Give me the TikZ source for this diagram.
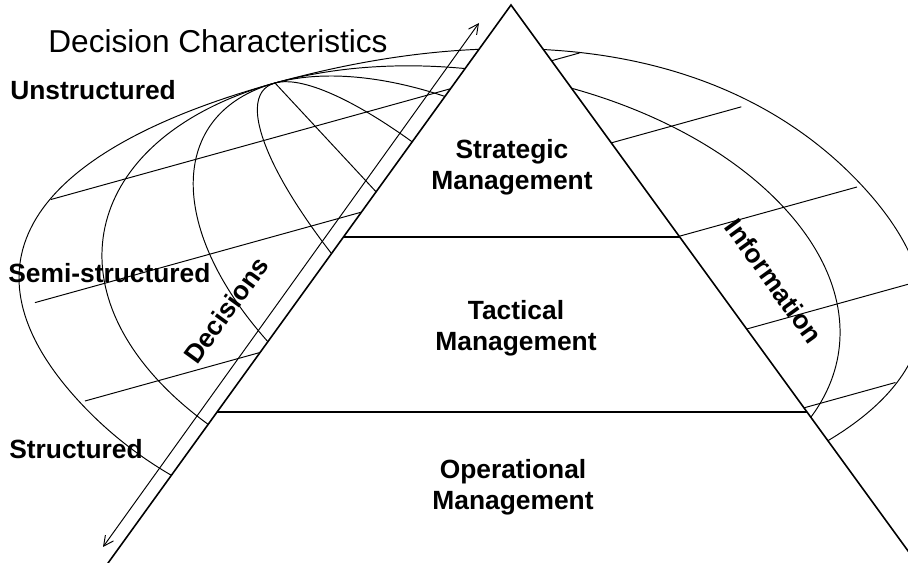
\documentclass[tikz,border=0pt]{standalone}
\usepackage{fontspec}
\setmainfont{Liberation Sans}
\usetikzlibrary{arrows.meta,calc}

\tikzset{
  globe/.style={line width=0.55pt},
  pyramid/.style={line width=0.9pt},
  level/.style={line width=1.2pt},
  scale label/.style={font=\bfseries\fontsize{15}{18}\selectfont, anchor=base west, inner sep=0pt},
  tier/.style={font=\bfseries\fontsize{15}{17.6}\selectfont, align=center, inner sep=0pt},
  flow/.style={font=\bfseries\fontsize{15}{18}\selectfont, inner sep=0pt},
  barb/.tip={Straight Barb[length=2mm,width=2mm]}
}

\begin{document}
\begin{tikzpicture}
\useasboundingbox (0,0) rectangle (18.16,11.26);
\clip (0,0) rectangle (18.16,11.26);

% ----------------------------------------------------------
% Globe of decision characteristics
% ----------------------------------------------------------
\begin{scope}[shift={(9.42,5.38)}, x={(7.72cm,2.14cm)}, y={(-3.92cm,4.22cm)}, globe]
  % outline
  \draw (1.013,0) .. controls (1.013,0.64) and (0.65,1) .. (0,1)
        .. controls (-0.65,1) and (-1.013,0.64) .. (-1.013,0)
        .. controls (-1.013,-0.64) and (-0.65,-1) .. (0,-1)
        .. controls (0.65,-1) and (1.013,-0.64) .. (1.013,0) -- cycle;

  % meridians
  \foreach \r in {0.81,0.51,0.22} {
    \draw (0,0) ellipse [x radius=\r, y radius=1];
  }
  \draw (0,1) -- (0,-1);

  % parallels
  \foreach \v/\h in {0.795/0.685, 0.423/0.915, 0/1.0, -0.42/0.93, -0.777/0.705} {
    \draw (-\h,\v) -- (\h,\v);
  }
\end{scope}

% ----------------------------------------------------------
% Management pyramid
% ----------------------------------------------------------
\coordinate (apex) at (10.22,11.16);
\coordinate (base-l) at (1.80,-0.5);
\coordinate (base-r) at (18.70,-0.5);
\coordinate (strat-l) at ($(apex)!0.3979!(base-l)$);
\coordinate (strat-r) at ($(apex)!0.3979!(base-r)$);
\coordinate (tact-l) at ($(apex)!0.6981!(base-l)$);
\coordinate (tact-r) at ($(apex)!0.6981!(base-r)$);

\fill[white] (apex) -- (base-l) -- (base-r) -- cycle;
\draw[pyramid] (base-l) -- (apex) -- (base-r);
\draw[level] (strat-l) -- (strat-r);
\draw[level] (tact-l) -- (tact-r);

% Decisions arrow along the left face
\coordinate (dec-lo) at (2.06,0.32);
\coordinate (dec-hi) at (9.58,10.80);
\draw[globe, barb-barb] (dec-lo) -- (dec-hi);

% ----------------------------------------------------------
% Labels
% ----------------------------------------------------------
\node[font=\fontsize{18}{21}\selectfont, anchor=base west, inner sep=0pt] (title) at (0.96,10.2) {Decision Characteristics};
\node[scale label] (unstr) at (0.2,9.26) {Unstructured};
\node[scale label] (semi) at (0.16,5.6) {Semi-structured};
\node[scale label] (str) at (0.18,2.08) {Structured};

\node[tier] (strategic) at (10.24,7.92) {Strategic\\Management};
\node[tier] (tactical) at (10.32,4.70) {Tactical\\Management};
\node[tier] (operational) at (10.26,1.52) {Operational\\Management};

\node[flow, rotate=54] (decisions) at (4.52,5.06) {Decisions};
\node[flow, rotate=-54] (information) at (15.48,5.64) {Information};

\end{tikzpicture}
\end{document}
